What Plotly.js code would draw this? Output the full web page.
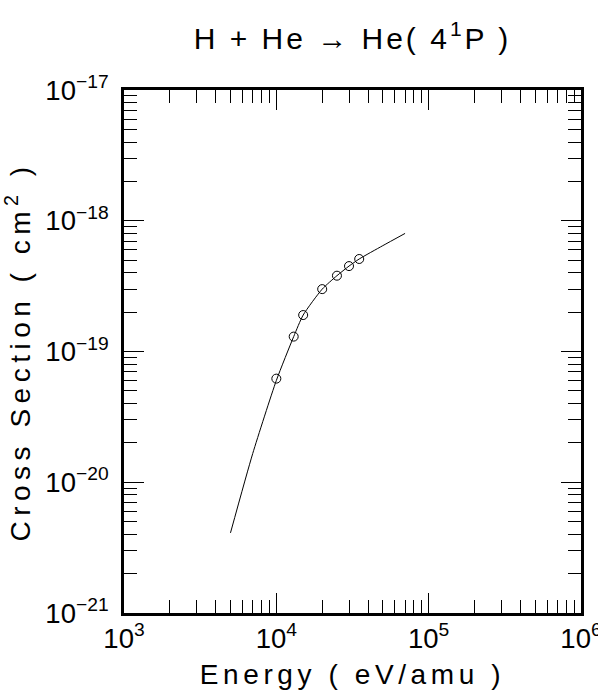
<!DOCTYPE html>
<html>
<head>
<meta charset="utf-8">
<script src="https://cdn.plot.ly/plotly-3.0.1.min.js"></script>
<style>
html,body{margin:0;padding:0;background:#fff;}
#chart{width:598px;height:696px;}
.gtitle { letter-spacing: 3px; }
.xtitle { letter-spacing: 4.6px; }
.ytitle { letter-spacing: 5.5px; }
.ytick text { translate: -8px 0; }
</style>
</head>
<body>
<div id="chart"></div>
<script>
// Measured data points (open circles)
const dataEnergy = [10000, 13000, 15000, 20000, 25000, 30000, 35000];
const dataCross = [6.2e-20, 1.3e-19, 1.9e-19, 3.0e-19, 3.8e-19, 4.5e-19, 5.1e-19];
// Fitted curve (solid line)
const fitEnergy = [5000, 7000, 10000, 13000, 15000, 20000, 25000, 30000, 35000, 50000, 70000];
const fitCross = [4.1e-21, 1.66e-20, 6.0e-20, 1.3e-19, 1.9e-19, 3.0e-19, 3.8e-19, 4.5e-19, 5.1e-19, 6.45e-19, 8.0e-19];

const FONT = 'Liberation Sans, Arial, sans-serif';

const traces = [
  {x: fitEnergy, y: fitCross, mode: 'lines', type: 'scatter',
   line: {color: 'black', width: 1, shape: 'spline', smoothing: 0.6}, showlegend: false, hoverinfo: 'skip'},
  {x: dataEnergy, y: dataCross, mode: 'markers', type: 'scatter',
   marker: {symbol: 'circle-open', size: 9, color: 'black', line: {width: 1, color: 'black'}}, showlegend: false}
];

function axisCommon() {
  return {
    type: 'log', dtick: 1, exponentformat: 'power', showexponent: 'all',
    ticks: 'inside', ticklen: 20, tickwidth: 1, tickcolor: 'black',
    minor: {ticks: 'inside', ticklen: 13, tickwidth: 1, tickcolor: 'black', dtick: 'D1', showgrid: false},
    showline: true, linewidth: 3, linecolor: 'black', mirror: 'allticks',
    showgrid: false, zeroline: false, ticklabeloverflow: 'allow',
    tickfont: {family: FONT, size: 22, color: 'black'}
  };
}

const xaxis = Object.assign(axisCommon(), {
  range: [3, 6],
  title: {text: 'Energy ( eV/amu )', font: {family: FONT, size: 28, color: 'black'}, standoff: 12}
});
const yaxis = Object.assign(axisCommon(), {
  range: [-21, -17],
  title: {text: 'Cross Section ( cm<sup>2</sup> )', font: {family: FONT, size: 28, color: 'black'}, standoff: 8}
});

const layout = {
  width: 598, height: 696,
  margin: {l: 124, r: 17, t: 90, b: 83},
  paper_bgcolor: 'white', plot_bgcolor: 'white',
  title: {text: 'H + He → He( 4<sup>1</sup>P )', font: {family: FONT, size: 30, color: 'black'},
          x: 0.5, xref: 'paper', xanchor: 'center', y: 0.945, yanchor: 'middle'},
  xaxis: xaxis, yaxis: yaxis
};

Plotly.newPlot('chart', traces, layout, {staticPlot: true});
</script>
</body>
</html>
